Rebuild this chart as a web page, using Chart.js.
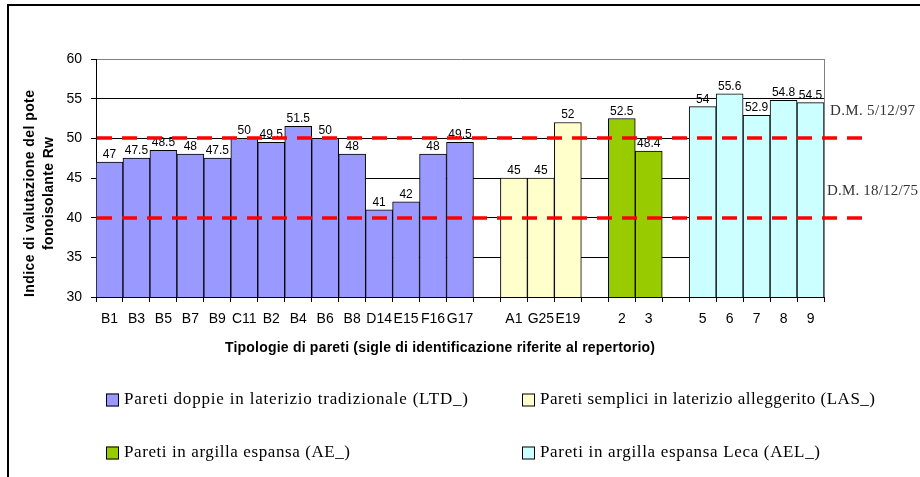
<!DOCTYPE html>
<html>
<head>
<meta charset="utf-8">
<script src="https://cdn.jsdelivr.net/npm/chart.js@4.4.1/dist/chart.umd.min.js"></script>
<style>
  html, body { margin: 0; padding: 0; background: #fff; }
  canvas { display: block; }
</style>
</head>
<body>
<canvas id="chart" width="920" height="477"></canvas>
<script>
// Pareti doppie in laterizio tradizionale (LTD_)
const ltdLabels = ['B1', 'B3', 'B5', 'B7', 'B9', 'C11', 'B2', 'B4', 'B6', 'B8', 'D14', 'E15', 'F16', 'G17'];
const ltdValues = [47, 47.5, 48.5, 48, 47.5, 50, 49.5, 51.5, 50, 48, 41, 42, 48, 49.5];
// Pareti semplici in laterizio alleggerito (LAS_)
const lasLabels = ['A1', 'G25', 'E19'];
const lasValues = [45, 45, 52];
// Pareti in argilla espansa (AE_)
const aeLabels = ['2', '3'];
const aeValues = [52.5, 48.4];
// Pareti in argilla espansa Leca (AEL_)
const aelLabels = ['5', '6', '7', '8', '9'];
const aelValues = [54, 55.6, 52.9, 54.8, 54.5];

const yTicks = [30, 35, 40, 45, 50, 55, 60];
const limitValues = [50, 40];
const limitLabels = ['D.M. 5/12/97', 'D.M. 18/12/75'];

const yTitle = ['Indice di valutazione del pote', 'fonoisolante Rw'];
const xTitle = 'Tipologie di pareti (sigle di identificazione riferite al repertorio)';

const groups = [
    { name: 'Pareti doppie in laterizio tradizionale (LTD_)', labels: ltdLabels, values: ltdValues, color: '#9999FF' },
    { name: 'Pareti semplici in laterizio alleggerito (LAS_)', labels: lasLabels, values: lasValues, color: '#FFFFCC' },
    { name: 'Pareti in argilla espansa (AE_)', labels: aeLabels, values: aeValues, color: '#99CC00' },
    { name: 'Pareti in argilla espansa Leca (AEL_)', labels: aelLabels, values: aelValues, color: '#CCFFFF' }
];

// categorie con una colonna vuota tra un gruppo e l'altro
const categories = [];
const offsets = [];
groups.forEach((g, i) => {
    if (i > 0) categories.push('');
    offsets.push(categories.length);
    categories.push(...g.labels);
});

const datasets = groups.map((g, i) => {
    const data = categories.map(() => null);
    g.values.forEach((v, j) => { data[offsets[i] + j] = v; });
    return {
        label: g.name,
        data: data,
        backgroundColor: g.color,
        borderColor: '#000000',
        borderWidth: 1,
        borderSkipped: 'bottom'
    };
});

// scrive il testo allargando le lettere fino alla larghezza voluta
const fitText = (ctx, text, x, y, width) => {
    ctx.letterSpacing = '0px';
    const w = ctx.measureText(text).width;
    if (w >= width) {
        ctx.fillText(text, x, y, width);
        return;
    }
    ctx.letterSpacing = ((width - w) / Math.max(text.length - 1, 1)) + 'px';
    ctx.fillText(text, x, y);
    ctx.letterSpacing = '0px';
};

const decorations = {
    id: 'decorations',
    beforeDatasetsDraw(chart) {
        const { ctx, chartArea } = chart;
        // bordo dell'area del grafico (grigio)
        ctx.save();
        ctx.strokeStyle = '#808080';
        ctx.lineWidth = 1;
        ctx.beginPath();
        ctx.moveTo(chartArea.right + 0.5, chartArea.bottom);
        ctx.lineTo(chartArea.right + 0.5, chartArea.top);
        ctx.stroke();
        ctx.restore();
    },
    afterDatasetsDraw(chart) {
        const { ctx, chartArea } = chart;
        const y = chart.scales.y;

        // valori sopra le barre
        ctx.save();
        ctx.fillStyle = '#000';
        ctx.font = '12px Arial, "Liberation Sans", sans-serif';
        ctx.textAlign = 'center';
        ctx.textBaseline = 'alphabetic';
        chart.data.datasets.forEach((ds, i) => {
            chart.getDatasetMeta(i).data.forEach((bar, j) => {
                const v = ds.data[j];
                if (v === null) return;
                ctx.fillText(String(v), bar.x, bar.y - 4);
            });
        });
        ctx.restore();

        // limiti di legge (linee rosse tratteggiate)
        ctx.save();
        ctx.strokeStyle = '#FF0000';
        ctx.lineWidth = 3.5;
        ctx.setLineDash([15, 10]);
        limitValues.forEach((v, i) => {
            const py = Math.round(y.getPixelForValue(v));
            ctx.beginPath();
            ctx.moveTo(chartArea.left + 1, py);
            ctx.lineTo(chartArea.right + 38, py);
            ctx.stroke();
        });
        ctx.setLineDash([]);
        ctx.fillStyle = '#333';
        ctx.font = '15px "Liberation Serif", serif';
        ctx.textAlign = 'left';
        ctx.textBaseline = 'middle';
        const widths = [85, 91];
        const dx = [6, 3];
        limitValues.forEach((v, i) => {
            const py = y.getPixelForValue(v);
            fitText(ctx, limitLabels[i], chartArea.right + dx[i], py - 27, widths[i]);
        });
        ctx.restore();
    },
    afterDraw(chart) {
        const { ctx } = chart;
        ctx.save();
        ctx.fillStyle = '#000';

        // titolo asse y (due righe, ruotato)
        ctx.font = 'bold 14px Arial, "Liberation Sans", sans-serif';
        ctx.textAlign = 'left';
        ctx.textBaseline = 'middle';
        const yTitleX = [30, 49];
        const yTitleW = [207, 113];
        yTitle.forEach((line, i) => {
            ctx.save();
            ctx.translate(yTitleX[i], 193.5);
            ctx.rotate(-Math.PI / 2);
            fitText(ctx, line, -yTitleW[i] / 2, 0, yTitleW[i]);
            ctx.restore();
        });

        // titolo asse x
        fitText(ctx, xTitle, 225, 348, 430);

        // legenda 2x2
        const cols = [106, 522];
        const rows = [400, 453];
        const textW = [344, 335, 226, 280];
        ctx.font = '17px "Liberation Serif", serif';
        ctx.fillStyle = '#000';
        groups.forEach((g, i) => {
            const bx = cols[i % 2];
            const by = rows[Math.floor(i / 2)];
            ctx.fillStyle = g.color;
            ctx.fillRect(bx, by - 6.5, 13, 13);
            ctx.strokeStyle = '#000';
            ctx.lineWidth = 1;
            ctx.strokeRect(bx + 0.5, by - 6, 12, 12);
            ctx.fillStyle = '#000';
            fitText(ctx, g.name, bx + 18, by, textW[i]);
        });

        // cornice esterna
        ctx.strokeStyle = '#000';
        ctx.lineWidth = 2;
        ctx.beginPath();
        ctx.moveTo(8, 477);
        ctx.lineTo(8, 5);
        ctx.lineTo(920, 5);
        ctx.stroke();
        ctx.restore();
    }
};

new Chart(document.getElementById('chart').getContext('2d'), {
    type: 'bar',
    data: {
        labels: categories,
        datasets: datasets
    },
    options: {
        responsive: false,
        animation: false,
        devicePixelRatio: 1,
        layout: {
            padding: { left: 0, right: 96, top: 59, bottom: 150 }
        },
        datasets: {
            bar: {
                grouped: false,
                categoryPercentage: 1,
                barPercentage: 1
            }
        },
        plugins: {
            legend: { display: false },
            tooltip: { enabled: false }
        },
        scales: {
            x: {
                offset: true,
                afterFit: (scale) => { scale.height = 30; },
                border: { color: '#000', width: 1 },
                grid: {
                    offset: true,
                    drawOnChartArea: false,
                    drawTicks: true,
                    tickLength: 5,
                    tickColor: '#000'
                },
                ticks: {
                    autoSkip: false,
                    maxRotation: 0,
                    minRotation: 0,
                    padding: 9,
                    color: '#000',
                    font: { family: 'Arial, "Liberation Sans", sans-serif', size: 14 }
                }
            },
            y: {
                min: yTicks[0],
                max: yTicks[yTicks.length - 1],
                afterFit: (scale) => { scale.width = 96; },
                border: { color: '#000', width: 1 },
                grid: {
                    color: (c) => (c.tick && c.tick.value === yTicks[yTicks.length - 1]) ? '#808080' : '#000',
                    tickLength: 5,
                    tickColor: '#000'
                },
                ticks: {
                    stepSize: yTicks[1] - yTicks[0],
                    padding: 9,
                    color: '#000',
                    font: { family: 'Arial, "Liberation Sans", sans-serif', size: 14 }
                }
            }
        }
    },
    plugins: [decorations]
});
</script>
</body>
</html>
